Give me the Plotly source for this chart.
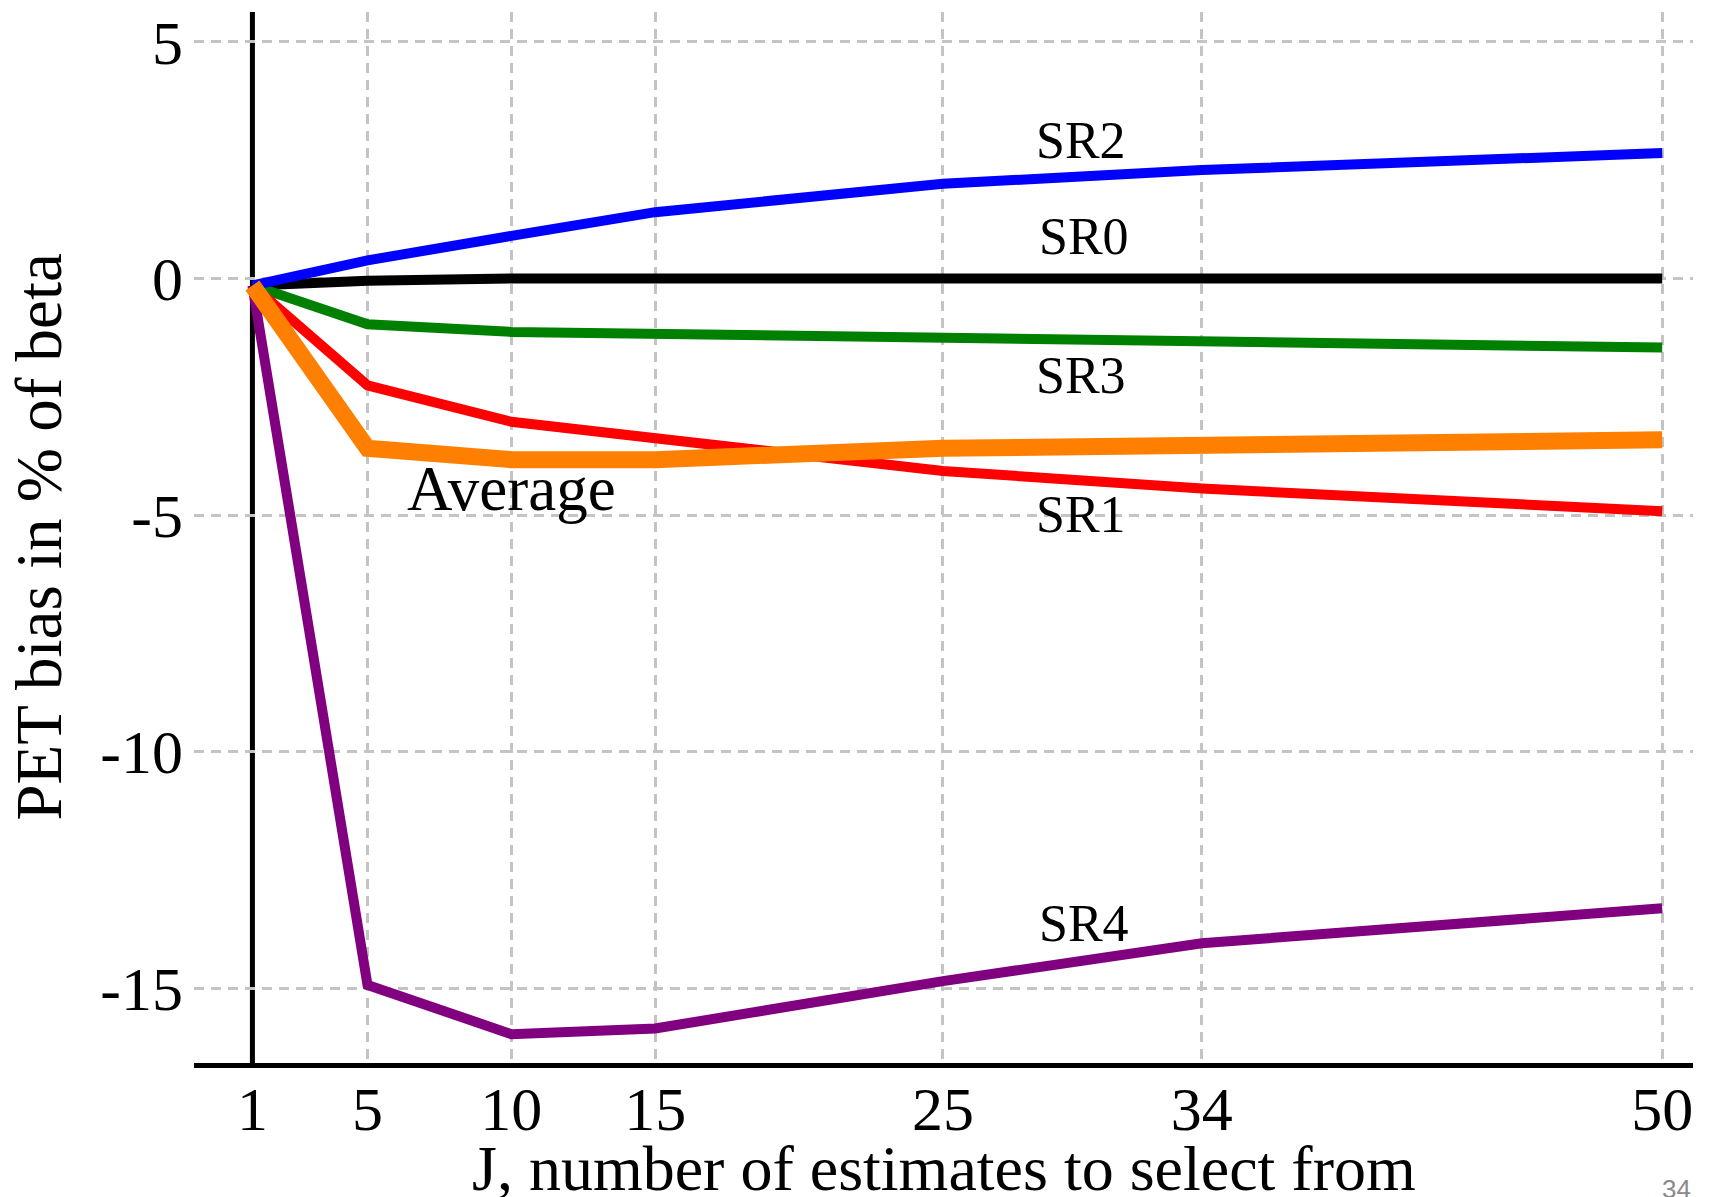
import plotly.graph_objects as go

# ---- data ----
J = [1, 5, 10, 15, 25, 34, 50]
sr0 = [-0.15, -0.05, 0.0, 0.0, 0.0, 0.0, 0.0]
sr1 = [-0.15, -2.26, -3.03, -3.39, -4.07, -4.44, -4.92]
sr2 = [-0.15, 0.38, 0.90, 1.40, 2.00, 2.29, 2.65]
sr3 = [-0.15, -0.97, -1.13, -1.17, -1.25, -1.36, -1.46]
sr4 = [-0.15, -14.93, -15.97, -15.85, -14.85, -14.05, -13.31]
average = [-0.15, -3.59, -3.83, -3.83, -3.59, -3.51, -3.41]

x_ticks = [1, 5, 10, 15, 25, 34, 50]
x_grid = [5, 10, 15, 25, 34, 50]
y_ticks = [5, 0, -5, -10, -15]

series = [
    ("SR0", sr0, "#000000", 10),
    ("SR3", sr3, "#008000", 10),
    ("SR1", sr1, "#ff0000", 10),
    ("SR2", sr2, "#0000ff", 10),
    ("SR4", sr4, "#800080", 10),
    ("Average", average, "#ff8000", 17),
]

FONT = "Times New Roman, Liberation Serif, serif"

fig = go.Figure()
for name, vals, color, w in series:
    fig.add_trace(go.Scatter(x=J, y=vals, mode="lines", name=name,
                             line=dict(color=color, width=w),
                             showlegend=False))

labels = [
    ("SR2", 29.8, 2.92, 52),
    ("SR0", 29.9, 0.89, 52),
    ("SR3", 29.8, -2.05, 52),
    ("SR1", 29.8, -4.98, 52),
    ("SR4", 29.9, -13.64, 52),
    ("Average", 10.0, -4.45, 63),
]
for txt, x, y, fs in labels:
    fig.add_annotation(x=x, y=y, xref="x", yref="y", text=txt, showarrow=False,
                       xanchor="center", yanchor="middle",
                       font=dict(family=FONT, size=fs, color="black"))

# axis titles
fig.add_annotation(x=0.5, y=-0.1, xref="paper", yref="paper",
                   text="J, number of estimates to select from", showarrow=False,
                   xanchor="center", yanchor="middle",
                   font=dict(family=FONT, size=64, color="black"))
fig.add_annotation(x=-0.104, y=0.5, xref="paper", yref="paper",
                   text="PET bias in % of beta", showarrow=False, textangle=-90,
                   xanchor="center", yanchor="middle",
                   font=dict(family=FONT, size=65, color="black"))
# page number
fig.add_annotation(x=1.0, y=-0.104, xref="paper", yref="paper", text="34",
                   showarrow=False, xanchor="right", yanchor="top",
                   font=dict(family="Liberation Sans, Arial, sans-serif", size=26, color="#8a8a8a"))

# vertical axis line at J = 1
fig.add_shape(type="line", xref="x", yref="paper", x0=1, x1=1, y0=0, y1=1,
              line=dict(color="black", width=5), layer="between")

fig.update_xaxes(range=[-1.03, 51.07], tickvals=x_ticks,
                 ticktext=[str(v) for v in x_ticks],
                 showgrid=False,
                 minor=dict(tickvals=x_grid, showgrid=True, gridcolor="#c4c4c4",
                            gridwidth=2.5, griddash="10px,7px", ticks=""),
                 zeroline=False, showline=True, linecolor="black", linewidth=5,
                 ticks="", ticklabelstandoff=-12,
                 tickfont=dict(family=FONT, size=62, color="black"))
fig.update_yaxes(range=[-16.58, 5.63], tickvals=y_ticks,
                 ticktext=[str(v) for v in y_ticks],
                 showgrid=True, gridcolor="#c4c4c4", gridwidth=2.5, griddash="10px,7px",
                 zeroline=False, showline=False, ticks="", ticklabelstandoff=10,
                 tickfont=dict(family=FONT, size=62, color="black"))

fig.update_layout(width=1713, height=1197,
                  margin=dict(l=194, r=20, t=9, b=134),
                  paper_bgcolor="white", plot_bgcolor="white")

fig.write_html("out.html", config={"displayModeBar": False},
               post_script="document.body.style.margin='0';")
